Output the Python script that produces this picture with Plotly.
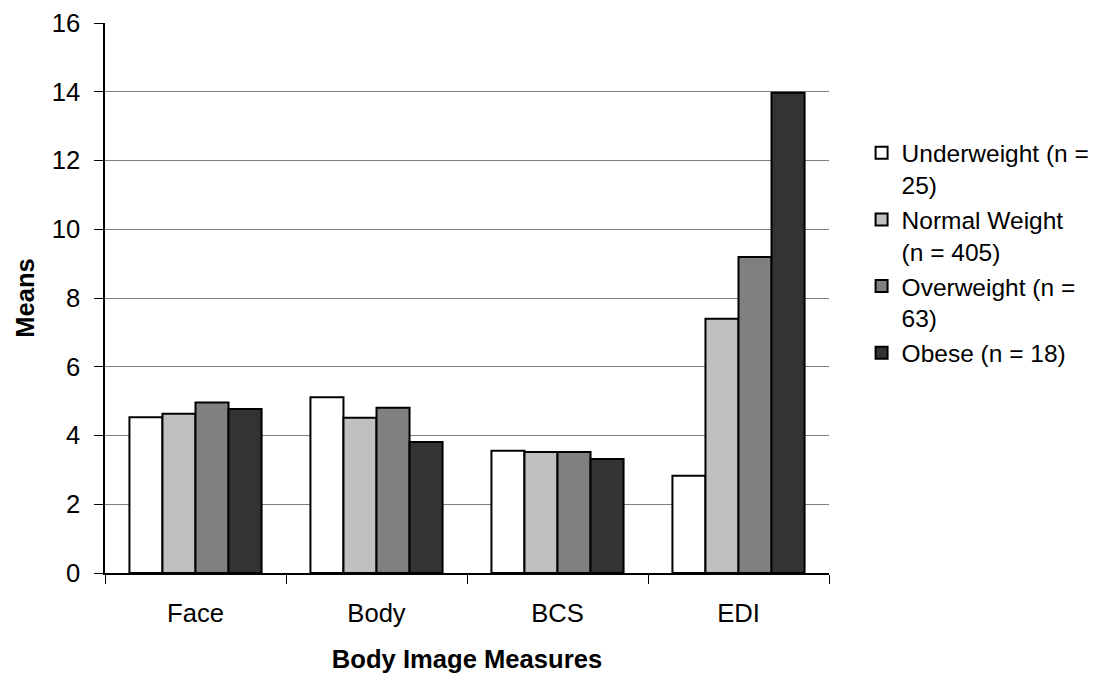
import plotly.graph_objects as go

categories = ["Face", "Body", "BCS", "EDI"]
groups = ["Underweight (n =<br>25)", "Normal Weight<br>(n = 405)", "Overweight (n =<br>63)", "Obese (n = 18)"]
underweight = [4.53, 5.11, 3.56, 2.83]
normal_weight = [4.63, 4.52, 3.52, 7.40]
overweight = [4.96, 4.81, 3.52, 9.19]
obese = [4.77, 3.81, 3.32, 13.97]
y_ticks = [0, 2, 4, 6, 8, 10, 12, 14, 16]

series = [underweight, normal_weight, overweight, obese]
fills = ["#FFFFFF", "#C0C0C0", "#808080", "#333333"]

fig = go.Figure()
for name, vals, col in zip(groups, series, fills):
    fig.add_trace(go.Bar(
        x=categories, y=vals, name=name,
        marker=dict(color=col, line=dict(color="#000000", width=2)),
    ))

font = "Liberation Sans, Arial, sans-serif"
fs = 25.6
fig.update_layout(
    width=1099, height=673,
    margin=dict(l=105, r=270, t=23, b=100, autoexpand=False),
    paper_bgcolor="white", plot_bgcolor="white",
    barmode="group", bargap=0.27, bargroupgap=0,
    font=dict(family=font, size=fs, color="#000000"),
    showlegend=True,
    legend=dict(
        x=1.045, y=0.805, xanchor="left", yanchor="top",
        font=dict(size=24.5), valign="top",
        tracegroupgap=0, itemwidth=30,
        bgcolor="rgba(0,0,0,0)",
    ),
    xaxis=dict(
        title=dict(text="<b>Body Image Measures</b>", font=dict(size=fs), standoff=28),
        showline=True, linecolor="#000000", linewidth=1.5,
        ticks="outside", tickson="boundaries", ticklen=9, tickcolor="#000000",
        tickfont=dict(size=fs), ticklabelstandoff=17,
    ),
    yaxis=dict(
        title=dict(text="<b>Means</b>", font=dict(size=fs), standoff=10),
        range=[0, 16], tickvals=y_ticks,
        showline=True, linecolor="#000000", linewidth=1.5,
        ticks="outside", ticklen=9, tickcolor="#000000",
        showgrid=True, gridcolor="#808080", gridwidth=1,
        tickfont=dict(size=fs), zeroline=False, ticklabelstandoff=9,
    ),
)

fig.write_html("out.html")
